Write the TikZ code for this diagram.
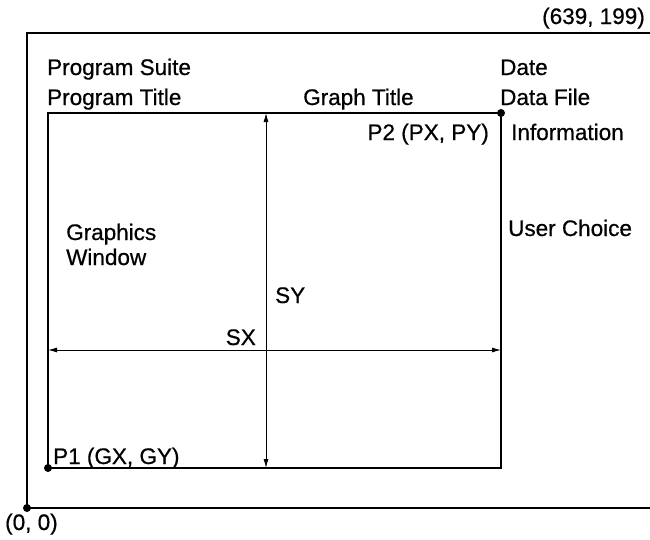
\documentclass[tikz,border=0pt]{standalone}
\usepackage{fontspec}
\setmainfont{Liberation Sans}
\newfontfamily\medio[FakeBold=0.6]{Liberation Sans}
\usetikzlibrary{arrows.meta}
\begin{document}
\begin{tikzpicture}[x=1pt, y=-1pt,
		every node/.style={font=\medio\fontsize{22.5}{26}\selectfont, inner sep=0pt},
		etiqueta/.style={anchor=base west},
		punto/.style={circle, fill=black, minimum size=8pt, inner sep=0pt},
		marco/.style={draw=black, line width=1.8pt},
		cota/.style={draw=black, line width=0.9pt, {Latex[length=9pt,width=5pt]}-{Latex[length=9pt,width=5pt]}}]
	\useasboundingbox (0,0) rectangle (650,539);
	% screen frame and graphics window
	\node[punto] (O)  at (27,508) {};
	\node[punto] (P1) at (48,468) {};
	\node[punto] (P2) at (501,113) {};
	\coordinate (pantallaA) at (650,33);
	\coordinate (pantallaB) at (27,33);
	\coordinate (pantallaC) at (650,508);
	\draw[marco] (pantallaA) -- (pantallaB) -- (O.center) -- (pantallaC);
	\draw[marco] (P1.center) rectangle (P2.center);
	% SX and SY
	\coordinate (SYa) at (266,113);
	\coordinate (SYb) at (266,468);
	\coordinate (SXa) at (48,350);
	\coordinate (SXb) at (501,350);
	\draw[cota] (SYa) -- (SYb);
	\draw[cota] (SXa) -- (SXb);
	% texts
	\node[anchor=base east] (esq)   at (645,24)  {(639, 199)};
	\node[etiqueta] (suite)  at (47,75)   {Program Suite};
	\node[etiqueta] (titulo) at (47,105)  {Program Title};
	\node[etiqueta] (grafica) at (303,105) {Graph Title};
	\node[etiqueta] (fecha)  at (500,75)  {Date};
	\node[etiqueta] (datos)  at (500,105) {Data File};
	\node[anchor=base east] (p2txt) at (489,140) {P2 (PX, PY)};
	\node[etiqueta] (info)   at (511,140) {Information};
	\node[etiqueta] (eleccion) at (508,236) {User Choice};
	\node[etiqueta] (ventana1) at (66,240) {Graphics};
	\node[etiqueta] (ventana2) at (66,265) {Window};
	\node[etiqueta] (sy)     at (275,303) {SY};
	\node[anchor=base east] (sx) at (256,345) {SX};
	\node[etiqueta] (p1txt)  at (53,464)  {P1 (GX, GY)};
	\node[etiqueta] (origen) at (5,530)   {(0, 0)};
\end{tikzpicture}
\end{document}
